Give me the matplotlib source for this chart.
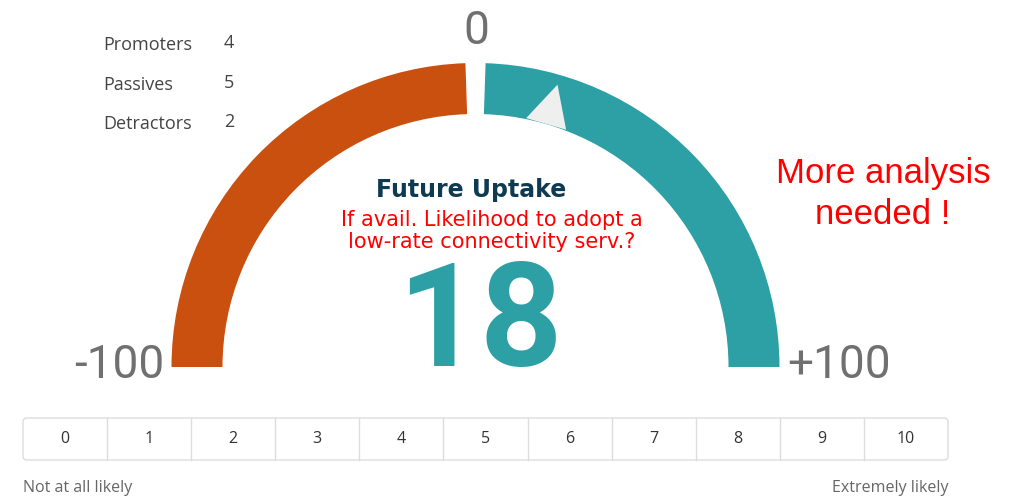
import matplotlib
matplotlib.use('Agg')
import matplotlib.pyplot as plt
from matplotlib.patches import Wedge, Polygon, FancyBboxPatch
import numpy as np

# survey data
groups = ['Promoters', 'Passives', 'Detractors']
counts = [4, 5, 2]
scale_labels = [str(i) for i in range(11)]
gauge_min, gauge_max = -100, 100
title = 'Future Uptake'
subtitle = 'If avail. Likelihood to adopt a\nlow-rate connectivity serv.?'
note = 'More analysis\nneeded !'

nps = round((counts[0] - counts[2]) / sum(counts) * 100)

ORANGE = '#CA5010'
TEAL = '#2CA0A5'
W, H = 1028, 496

fig = plt.figure(figsize=(W / 100, H / 100), dpi=100)
ax = fig.add_axes([0, 0, 1, 1])
ax.set_xlim(0, W)
ax.set_ylim(0, H)
ax.set_aspect('equal')
ax.axis('off')

def to_angle(v):
  return 180 - (v - gauge_min) / (gauge_max - gauge_min) * 180

cx, cy = 475.5, H - 367
r_out, width = 304, 51
gap = 1.9
ax.add_patch(Wedge((cx, cy), r_out, to_angle(0) + gap, to_angle(gauge_min),
                   width=width, color=ORANGE, lw=0))
ax.add_patch(Wedge((cx, cy), r_out, to_angle(gauge_max), to_angle(0) - gap,
                   width=width, color=TEAL, lw=0))

# pointer
a = np.radians(to_angle(nps))
da = np.radians(4.7)
r_in = r_out - width
tip = (cx + (r_out - 10) * np.cos(a), cy + (r_out - 10) * np.sin(a))
b1 = (cx + (r_in + 1) * np.cos(a + da), cy + (r_in + 1) * np.sin(a + da))
b2 = (cx + (r_in + 1) * np.cos(a - da), cy + (r_in + 1) * np.sin(a - da))
ax.add_patch(Polygon([tip, b1, b2], closed=True, color='#EFEFEF', lw=0))

# gauge labels
lab_kw = dict(fontsize=33, color='#707070', family='Roboto', fontweight='normal',
              va='center')
ax.text(164, H - 365, '-' + str(abs(gauge_min)), ha='right', **lab_kw)
ax.text(787, H - 365, '+' + str(gauge_max), ha='left', **lab_kw)
ax.text(476, H - 31, '0', ha='center', **lab_kw)

# legend
for i, (g, c) in enumerate(zip(groups, counts)):
  y = H - 45 - i * 39.5
  ax.text(103, y, g, fontsize=13, color='#444444', family='Open Sans', va='center')
  ax.text(224, y + 2, str(c), fontsize=13, color='#444444', family='Open Sans', va='center')

# centre texts
ax.text(471, H - 190, title, fontsize=17, fontweight='bold', color='#0E3B52',
        family='DejaVu Sans', ha='center', va='center')
ax.text(492, H - 231, subtitle, fontsize=15, color='#FF0000', family='DejaVu Sans',
        ha='center', va='center', linespacing=1.15)
ax.text(480, H - 326, str(nps), fontsize=104, color=TEAL, family='Roboto',
        fontweight='bold', ha='center', va='center')

ax.text(883, H - 194, note, fontsize=25, color='#FF0000', family='Liberation Sans',
        ha='center', va='center', linespacing=1.3)

# likelihood scale
x0, x1, y0, y1 = 23, 948, H - 460, H - 418
ax.add_patch(FancyBboxPatch((x0, y0), x1 - x0, y1 - y0,
                            boxstyle='round,pad=0,rounding_size=4',
                            fc='white', ec='#DDDDDD', lw=1))
cw = (x1 - x0) / len(scale_labels)
for i, s in enumerate(scale_labels):
  if i > 0:
    ax.plot([x0 + i * cw] * 2, [y0, y1], color='#DDDDDD', lw=1)
  ax.text(x0 + (i + 0.5) * cw, (y0 + y1) / 2, s, fontsize=11.5, color='#333333',
          family='Open Sans', ha='center', va='center')

ax.text(x0, H - 488, 'Not at all likely', fontsize=11.5, color='#666666',
        family='Open Sans', ha='left', va='center')
ax.text(x1, H - 488, 'Extremely likely', fontsize=11.5, color='#666666',
        family='Open Sans', ha='right', va='center')

plt.savefig('out.png', dpi=100)
